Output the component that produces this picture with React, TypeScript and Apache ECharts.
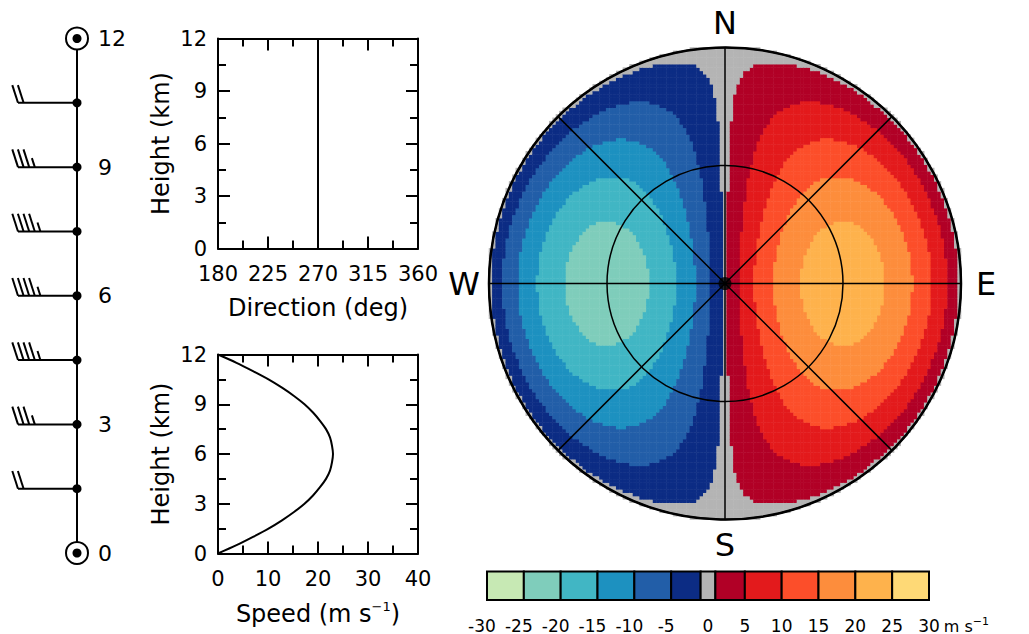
import React, { useEffect, useRef } from "react";
import * as echarts from "echarts";

const FONT = "DejaVu Sans";

// Wind speed profile (height km, speed m/s)
const profileHeightsKm = [0, 0.5, 1, 1.5, 2, 2.5, 3, 3.5, 4, 4.5, 5, 5.5, 6, 6.5, 7, 7.5, 8, 8.5, 9, 9.5, 10, 10.5, 11, 11.5, 12];
const profileSpeeds = [0, 3.7, 7.0, 10.1, 12.8, 15.2, 17.3, 19.0, 20.4, 21.6, 22.4, 22.8, 23.0, 22.8, 22.4, 21.6, 20.4, 19.0, 17.3, 15.2, 12.8, 10.1, 7.0, 3.7, 0];

// Wind direction profile (height km, direction deg)
const directionHeightsKm = [0, 12];
const directionDeg = [270, 270];

// Wind barbs (height km, speed knots)
const barbHeightsKm = [0, 1.5, 3, 4.5, 6, 7.5, 9, 10.5, 12];
const barbSpeedsKt = [0, 20, 35, 45, 45, 45, 35, 20, 0];

// Colour bar boxes as drawn (m/s)
const velocityEdges = [-30, -25, -20, -15, -10, -5, -1, 1, 5, 10, 15, 20, 25, 30];
const velocityColors = [
  "#c7e9b4", "#7fcdbb", "#41b6c4", "#1d91c0", "#225ea8", "#0c2c84",
  "#b4b4b4",
  "#b10026", "#e31a1c", "#fc4e2a", "#fd8d3c", "#feb24c", "#fed976",
];
// near-zero (grey) half width used on the map (m/s)
const mapGrayHalfWidth = 0.8;

const cardinalLabels: Record<number, string> = { 0: "N", 90: "{e|E}", 180: "S", 270: "W" };
const ppiTopHeightKm = 12; // beam height at the edge of the display
const PPI_CELLS = 141;

function interp(xs: number[], ys: number[], x: number) {
  if (x <= xs[0]) return ys[0];
  for (let k = 1; k < xs.length; k++) {
    if (x <= xs[k]) {
      const t = (x - xs[k - 1]) / (xs[k] - xs[k - 1]);
      return ys[k - 1] + t * (ys[k] - ys[k - 1]);
    }
  }
  return ys[ys.length - 1];
}

function buildPpi() {
  const out: number[][] = [];
  const edge = 1 + 0.6 / PPI_CELLS;
  for (let i = 0; i < PPI_CELLS; i++) {
    for (let j = 0; j < PPI_CELLS; j++) {
      const x = ((i + 0.5) / PPI_CELLS) * 2 - 1;
      const y = ((j + 0.5) / PPI_CELLS) * 2 - 1;
      const r = Math.hypot(x, y);
      if (r > edge) continue;
      const h = Math.min(r, 1) * ppiTopHeightKm;
      const spd = interp(profileHeightsKm, profileSpeeds, h);
      const dir = (interp(directionHeightsKm, directionDeg, h) * Math.PI) / 180;
      const az = Math.atan2(x, y);
      const vr = r === 0 ? 0 : -spd * Math.cos(az - dir);
      out.push([i, j, Math.round(vr * 100) / 100]);
    }
  }
  return out;
}

const black = "#000";

function frameAxis(gridIndex: number, position: string, min: number, max: number, interval: number, labels: boolean, extra: any = {}) {
  return {
    type: "value",
    gridIndex,
    position,
    min,
    max,
    interval,
    axisLine: { show: true, onZero: false, lineStyle: { color: black, width: 2 } },
    axisTick: { show: true, inside: true, length: 12, lineStyle: { color: black, width: 2 } },
    minorTick: { show: true, splitNumber: 2, length: 8, lineStyle: { color: black, width: 2 } },
    axisLabel: { show: labels, color: black, fontSize: 21, fontFamily: FONT },
    splitLine: { show: false },
    ...extra,
  };
}

export default function App() {
  const ref = useRef<HTMLDivElement>(null);
  useEffect(() => {
    if (!ref.current) return;
    const chart = echarts.init(ref.current, undefined, { renderer: "svg" });
    const cells = Array.from({ length: PPI_CELLS }, (_, i) => String(i));
    const nameStyle = { fontSize: 24, color: black, fontFamily: FONT };
    const mapEdges = velocityEdges.map((e) => (e === -1 ? -mapGrayHalfWidth : e === 1 ? mapGrayHalfWidth : e));

    const option: any = {
      animation: false,
      backgroundColor: "#fff",
      grid: [
        { left: 77, top: 38.5, width: 20, height: 514.5 },
        { left: 218, top: 38.5, width: 200, height: 210 },
        { left: 218, top: 354.5, width: 200, height: 199 },
        { left: 487, top: 571.5, width: 442, height: 30 },
        { left: 489, top: 47.5, width: 472, height: 472 },
      ],
      polar: { center: [725, 283.5], radius: 236 },
      angleAxis: {
        type: "value",
        min: 0,
        max: 360,
        interval: 45,
        startAngle: 90,
        clockwise: true,
        z: 10,
        axisLine: { show: true, lineStyle: { color: black, width: 2.5 } },
        axisTick: { show: false },
        axisLabel: {
          show: true,
          color: black,
          fontSize: 32,
          fontFamily: FONT,
          margin: 9,
          formatter: (v: number) => cardinalLabels[v] || "",
          rich: { e: { fontSize: 32, color: black, fontFamily: FONT, padding: [0, 0, 0, 6] } },
        },
        splitLine: { show: true, lineStyle: { color: black, width: 1.5 } },
      },
      radiusAxis: {
        type: "value",
        min: 0,
        max: 1,
        interval: 0.5,
        z: 10,
        axisLine: { show: false },
        axisTick: { show: false },
        axisLabel: { show: false },
        splitLine: { show: true, lineStyle: { color: black, width: 1.5 } },
      },
      xAxis: [
        { type: "value", gridIndex: 0, min: 0, max: 1, show: false },
        frameAxis(1, "bottom", 180, 360, 45, true, {
          name: "Direction (deg)",
          nameLocation: "middle",
          nameGap: 47,
          nameTextStyle: nameStyle,
          axisLabel: { show: true, color: black, fontSize: 21, fontFamily: FONT, margin: 15 },
        }),
        frameAxis(1, "top", 180, 360, 45, false),
        frameAxis(2, "bottom", 0, 40, 10, true, {
          name: "{n|Speed (m s}{sup|−1}{n|)}",
          nameLocation: "middle",
          nameGap: 46,
          nameTextStyle: {
            rich: {
              n: { fontSize: 24, color: black, fontFamily: FONT, lineHeight: 28 },
              sup: { fontSize: 13, color: black, fontFamily: FONT, verticalAlign: "top", lineHeight: 14 },
            },
          },
          axisLabel: { show: true, color: black, fontSize: 21, fontFamily: FONT, margin: 15 },
        }),
        frameAxis(2, "top", 0, 40, 10, false),
        {
          type: "value",
          gridIndex: 3,
          min: -30,
          max: 30,
          interval: 5,
          axisLine: { show: false },
          axisTick: { show: false },
          splitLine: { show: false },
          axisLabel: {
            color: black,
            fontSize: 17,
            fontFamily: FONT,
            margin: 17,
            formatter: (v: number) => (v < 0 ? "{neg|" + v + "}" : String(v)),
            rich: { neg: { fontSize: 17, color: black, fontFamily: FONT, padding: [0, 10, 0, 0] } },
          },
          name: "{u|m s}{sup|−1}",
          nameLocation: "end",
          nameGap: 14,
          nameTextStyle: {
            align: "left",
            padding: [52, 0, 0, 0],
            rich: {
              u: { fontSize: 16, color: black, fontFamily: FONT, lineHeight: 20 },
              sup: { fontSize: 11, color: black, fontFamily: FONT, verticalAlign: "top", lineHeight: 11 },
            },
          },
        },
        { type: "category", gridIndex: 4, data: cells, show: false },
      ],
      yAxis: [
        {
          type: "value",
          gridIndex: 0,
          position: "left",
          min: 0,
          max: 12,
          interval: 3,
          axisLine: { show: true, onZero: false, lineStyle: { color: black, width: 2 } },
          axisTick: { show: false },
          splitLine: { show: false },
          axisLabel: { inside: true, margin: 21, color: black, fontSize: 22, fontFamily: FONT },
        },
        frameAxis(1, "left", 0, 12, 3, true, {
          name: "Height (km)",
          nameLocation: "middle",
          nameGap: 45,
          nameTextStyle: nameStyle,
          axisLabel: { show: true, color: black, fontSize: 21, fontFamily: FONT, margin: 11 },
        }),
        frameAxis(1, "right", 0, 12, 3, false),
        frameAxis(2, "left", 0, 12, 3, true, {
          name: "Height (km)",
          nameLocation: "middle",
          nameGap: 45,
          nameTextStyle: nameStyle,
          axisLabel: { show: true, color: black, fontSize: 21, fontFamily: FONT, margin: 11 },
        }),
        frameAxis(2, "right", 0, 12, 3, false),
        { type: "value", gridIndex: 3, min: 0, max: 1, show: false },
        { type: "category", gridIndex: 4, data: cells, show: false },
      ],
      visualMap: {
        type: "piecewise",
        show: false,
        seriesIndex: 4,
        dimension: 2,
        pieces: velocityColors.map((c, k) => ({
          gte: k === 0 ? -1000 : mapEdges[k],
          lt: k === velocityColors.length - 1 ? 1000 : mapEdges[k + 1],
          color: c,
        })),
      },
      series: [
        {
          type: "custom",
          xAxisIndex: 0,
          yAxisIndex: 0,
          clip: false,
          z: 5,
          data: barbHeightsKm.map((h, i) => [0, h, barbSpeedsKt[i]]),
          renderItem: (params: any, api: any) => {
            const kt = api.value(2);
            const [x, y] = api.coord([api.value(0), api.value(1)]);
            const ls = { stroke: black, lineWidth: 2, fill: null };
            if (kt === 0) {
              return {
                type: "group",
                children: [
                  { type: "circle", shape: { cx: x, cy: y, r: 11 }, style: { fill: "#fff", stroke: black, lineWidth: 2 } },
                  { type: "circle", shape: { cx: x, cy: y, r: 4.5 }, style: { fill: black } },
                ],
              };
            }
            const staff = 59;
            const x0 = x - staff;
            const children: any[] = [{ type: "line", shape: { x1: x, y1: y, x2: x0, y2: y }, style: ls }];
            const nFull = Math.floor(kt / 10);
            const half = kt % 10 >= 5;
            for (let k = 0; k < nFull; k++) {
              const xb = x0 + k * 5.6;
              children.push({ type: "line", shape: { x1: xb, y1: y, x2: xb - 5.7, y2: y - 17.7 }, style: ls });
            }
            if (half) {
              const xb = x0 + nFull * 5.6;
              children.push({ type: "line", shape: { x1: xb, y1: y, x2: xb - 2.9, y2: y - 9 }, style: ls });
            }
            children.push({ type: "circle", shape: { cx: x, cy: y, r: 4.5 }, style: { fill: black } });
            return { type: "group", children };
          },
        },
        {
          type: "line",
          xAxisIndex: 1,
          yAxisIndex: 1,
          symbol: "none",
          lineStyle: { color: black, width: 2 },
          data: directionHeightsKm.map((h, i) => [directionDeg[i], h]),
        },
        {
          type: "line",
          xAxisIndex: 3,
          yAxisIndex: 3,
          symbol: "none",
          smooth: 0.3,
          lineStyle: { color: black, width: 2 },
          data: profileHeightsKm.map((h, i) => [profileSpeeds[i], h]),
        },
        {
          type: "custom",
          xAxisIndex: 5,
          yAxisIndex: 5,
          clip: false,
          data: velocityColors.map((_, k) => [velocityEdges[k], velocityEdges[k + 1], k]),
          renderItem: (params: any, api: any) => {
            const p0 = api.coord([api.value(0), 1]);
            const p1 = api.coord([api.value(1), 0]);
            return {
              type: "rect",
              shape: { x: p0[0], y: p0[1], width: p1[0] - p0[0], height: p1[1] - p0[1] },
              style: { fill: velocityColors[api.value(2)], stroke: black, lineWidth: 2 },
            };
          },
        },
        {
          type: "heatmap",
          xAxisIndex: 6,
          yAxisIndex: 6,
          progressive: 0,
          z: 2,
          itemStyle: { borderWidth: 0 },
          emphasis: { disabled: true },
          data: buildPpi(),
        },
        {
          type: "scatter",
          coordinateSystem: "polar",
          symbol: "circle",
          symbolSize: 13,
          z: 20,
          itemStyle: { color: black },
          data: [[0, 0]],
        },
      ],
    };
    chart.setOption(option);
    return () => chart.dispose();
  }, []);
  return <div ref={ref} style={{ position: "fixed", left: 0, top: 0, width: 1029, height: 634 }} />;
}
